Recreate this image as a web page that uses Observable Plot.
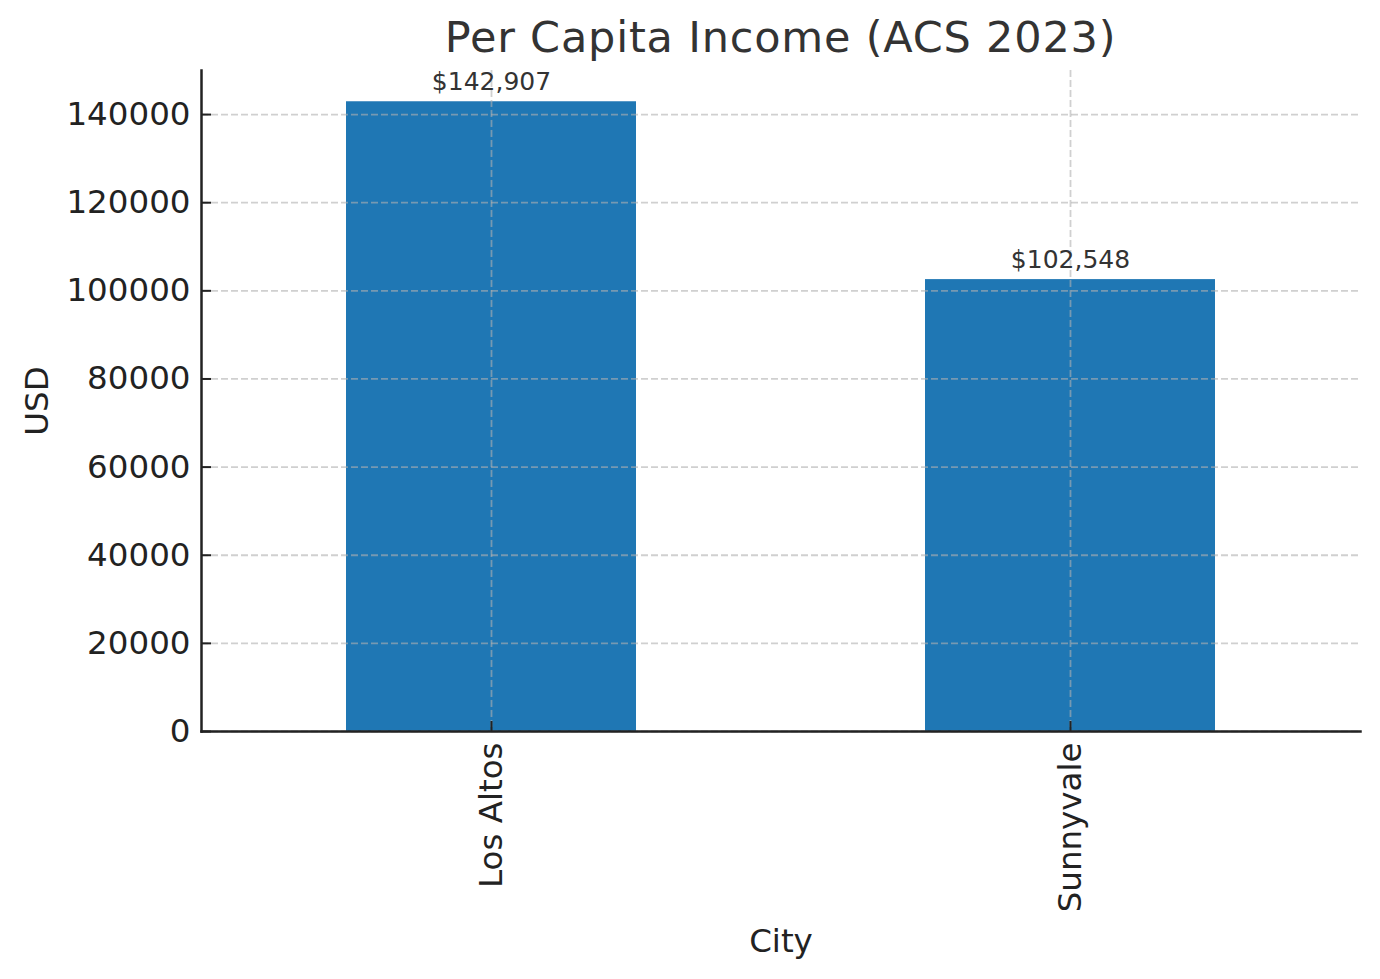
<!DOCTYPE html>
<html>
<head>
<meta charset="utf-8">
<script src="https://cdn.jsdelivr.net/npm/d3@7"></script>
<script src="https://cdn.jsdelivr.net/npm/@observablehq/plot@0.6"></script>
<style>
  html, body { margin: 0; padding: 0; background: #fff; }
  body { width: 1380px; height: 979px; overflow: hidden; font-family: "DejaVu Sans", sans-serif; }
  #title { box-sizing: border-box; height: 62px; padding-top: 16px; font-size: 43px; line-height: 43px;
           letter-spacing: 0.8px; text-align: center; color: #333; padding-left: 201px; padding-right: 20px; white-space: nowrap; }
</style>
</head>
<body>
<div id="title">Per Capita Income (ACS 2023)</div>
<div id="chart"></div>
<script>
const cities = ["Los Altos", "Sunnyvale"];
const incomes = [142907, 102548];
const yTicks = [0, 20000, 40000, 60000, 80000, 100000, 120000, 140000];

const data = cities.map((c, i) => ({city: c, income: incomes[i]}));

const W = 1380, H = 917;
const mL = 201, mR = 20, mT = 8, mB = 248;
const plotW = W - mL - mR, plotH = H - mT - mB;
const gridStyle = {stroke: "#b0b0b0", strokeOpacity: 0.6, strokeWidth: 1.8, strokeDasharray: "7,3"};
const ink = "#222";

const chart = Plot.plot({
  width: W, height: H,
  marginLeft: mL, marginRight: mR, marginTop: mT, marginBottom: mB,
  style: {fontFamily: "DejaVu Sans, sans-serif", background: "#fff", overflow: "visible"},
  x: {type: "band", domain: cities, paddingInner: 0.5, paddingOuter: 0.25},
  y: {domain: [0, 150000]},
  marks: [
    Plot.barY(data, {x: "city", y: "income", fill: "#1f77b4"}),
    Plot.gridY(yTicks, {...gridStyle}),
    Plot.gridX(cities, {...gridStyle}),
    Plot.tickY(yTicks, {y: d => d, stroke: ink, strokeWidth: 2, insetRight: plotW - 10}),
    Plot.tickX(cities, {x: d => d, stroke: ink, strokeWidth: 2, insetTop: plotH - 10}),
    Plot.frame({anchor: "left", stroke: ink, strokeWidth: 2.5}),
    Plot.frame({anchor: "bottom", stroke: ink, strokeWidth: 2.5}),
    Plot.axisY(yTicks, {tickSize: 0, tickPadding: 11, fontSize: 32.5, color: ink, tickFormat: d => String(d), label: null}),
    Plot.axisX(cities, {tickSize: 0, tickPadding: 11, fontSize: 32.5, color: ink, tickRotate: -90, label: null}),
    Plot.text(data, {x: "city", y: "income", text: d => "$" + d3.format(",")(d.income),
      fontSize: 25, fill: "#333", lineAnchor: "bottom", dy: -12}),
    Plot.text(["USD"], {frameAnchor: "left", textAnchor: "middle", lineAnchor: "middle", dx: -164, rotate: -90, fontSize: 32.5, fill: ink}),
    Plot.text(["City"], {frameAnchor: "bottom", textAnchor: "middle", lineAnchor: "middle", dy: 210, fontSize: 32.5, fill: ink})
  ]
});
document.getElementById("chart").appendChild(chart);
</script>
</body>
</html>
